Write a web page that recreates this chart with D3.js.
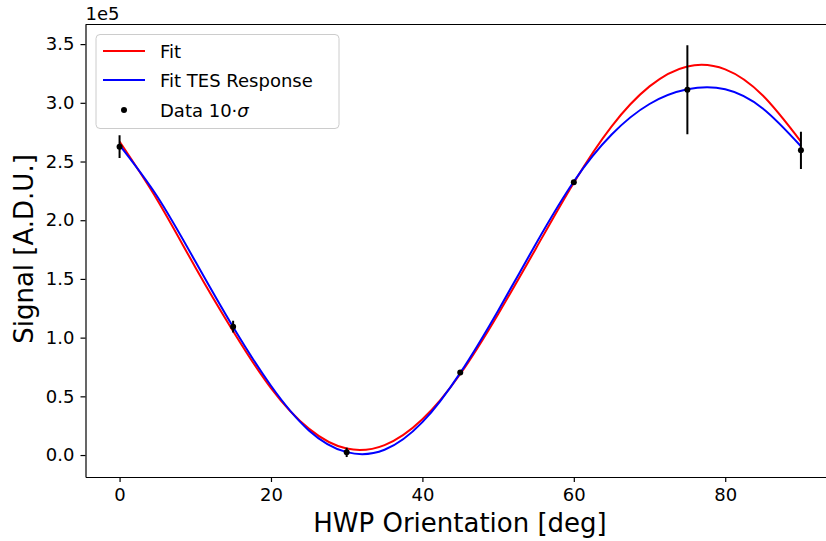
<!DOCTYPE html>
<html lang="en">
<head>
<meta charset="UTF-8">
<title>HWP Orientation Fit</title>
<script src="https://d3js.org/d3.v7.min.js"></script>
<style>
    body { margin: 0; background: #fff; }
    svg { display: block; }
    text { font-family: "DejaVu Sans", sans-serif; fill: #000; }
    .axis path, .axis line { stroke: #000; stroke-width: 1.2px; }
    .axis text { font-size: 18px; }
    .fit { fill: none; stroke-width: 2px; }
</style>
</head>
<body>
<div id="chart"></div>
<script>
    // measured points, signal in ADU
    var angles = [0, 15, 30, 45, 60, 75, 90];
    var signal = [262600, 109300, 2300, 70400, 232400, 311200, 259500];
    var sigma10 = [9700, 5000, 4000, 2000, 1500, 37900, 15800];

    // fit curves every 5 deg
    var fitAngles = [0, 5, 10, 15, 20, 25, 30, 35, 40, 45, 50, 55, 60, 65, 70, 75, 80, 85, 90];
    var fitRed = [267000, 217000, 160000, 105500, 57000, 22500, 5500, 8500, 30500, 69000,
                  120000, 176000, 232000, 280000, 314000, 331000, 328500, 306000, 267000];
    var fitBlue = [264000, 220000, 165000, 109000, 59000, 21000, 2500, 4500, 28000, 70000,
                   123000, 180000, 233000, 273000, 299000, 311500, 311500, 295000, 263000];

    var yTicks = [0, 50000, 100000, 150000, 200000, 250000, 300000, 350000];
    var xTicks = [0, 20, 40, 60, 80];

    var W = 826, H = 541;
    var plotLeft = 85.5, plotTop = 24.5, plotBottom = 477, plotRight = 835;

    var x = d3.scaleLinear().domain([-4.5, 94.5]).range([plotLeft, plotRight]);
    var y = d3.scaleLinear().domain([-18700, 366700]).range([plotBottom, plotTop]);

    var svg = d3.select("#chart").append("svg")
        .attr("width", W)
        .attr("height", H);

    svg.append("defs").append("clipPath").attr("id", "plotclip")
      .append("rect")
        .attr("x", plotLeft).attr("y", plotTop)
        .attr("width", plotRight - plotLeft).attr("height", plotBottom - plotTop);

    // axes
    svg.append("g")
        .attr("class", "axis")
        .attr("transform", "translate(0," + plotBottom + ")")
        .call(d3.axisBottom(x).tickValues(xTicks).tickSize(5).tickPadding(6)
            .tickSizeOuter(0).tickFormat(d3.format("d")));

    svg.append("g")
        .attr("class", "axis")
        .attr("transform", "translate(" + plotLeft + ",0)")
        .call(d3.axisLeft(y).tickValues(yTicks).tickSize(5).tickPadding(6)
            .tickSizeOuter(0).tickFormat(function(d) { return (d / 1e5).toFixed(1); }));

    // top spine
    svg.append("line")
        .attr("x1", plotLeft).attr("x2", W)
        .attr("y1", plotTop).attr("y2", plotTop)
        .attr("stroke", "#000").attr("stroke-width", 1.2);

    svg.append("text")
        .attr("x", plotLeft).attr("y", 20)
        .style("font-size", "18px")
        .text("1e5");

    var plot = svg.append("g").attr("clip-path", "url(#plotclip)");

    var line = function(vals) {
        return d3.line()
            .x(function(d, i) { return x(fitAngles[i]); })
            .y(function(d) { return y(d); })
            .curve(d3.curveNatural)(vals);
    };

    plot.append("path").attr("class", "fit").attr("stroke", "#ff0000").attr("d", line(fitRed));
    plot.append("path").attr("class", "fit").attr("stroke", "#0000ff").attr("d", line(fitBlue));

    // error bars and points
    var pts = angles.map(function(a, i) { return { a: a, s: signal[i], e: sigma10[i] }; });

    plot.selectAll("line.err")
        .data(pts)
      .enter().append("line")
        .attr("class", "err")
        .attr("x1", function(d) { return x(d.a); })
        .attr("x2", function(d) { return x(d.a); })
        .attr("y1", function(d) { return y(d.s - d.e); })
        .attr("y2", function(d) { return y(d.s + d.e); })
        .attr("stroke", "#000")
        .attr("stroke-width", 2);

    plot.selectAll("circle.pt")
        .data(pts)
      .enter().append("circle")
        .attr("class", "pt")
        .attr("cx", function(d) { return x(d.a); })
        .attr("cy", function(d) { return y(d.s); })
        .attr("r", 3)
        .attr("fill", "#000");

    // axis labels
    svg.append("text")
        .attr("x", 460).attr("y", 532)
        .attr("text-anchor", "middle")
        .style("font-size", "26px")
        .text("HWP Orientation [deg]");

    svg.append("text")
        .attr("transform", "translate(33,249) rotate(-90)")
        .attr("text-anchor", "middle")
        .style("font-size", "26px")
        .text("Signal [A.D.U.]");

    // legend
    var lg = svg.append("g");
    lg.append("rect")
        .attr("x", 96).attr("y", 34.5)
        .attr("width", 243).attr("height", 94)
        .attr("rx", 4)
        .attr("fill", "#fff").attr("fill-opacity", 0.8)
        .attr("stroke", "#cccccc").attr("stroke-width", 1);

    var items = [
        { label: "Fit", color: "#ff0000", kind: "line", cy: 51 },
        { label: "Fit TES Response", color: "#0000ff", kind: "line", cy: 80 },
        { label: "Data 10·", color: "#000", kind: "dot", cy: 110 }
    ];

    items.forEach(function(it) {
        if (it.kind === "line") {
            lg.append("line")
                .attr("x1", 103).attr("x2", 145)
                .attr("y1", it.cy).attr("y2", it.cy)
                .attr("stroke", it.color).attr("stroke-width", 2);
        } else {
            lg.append("circle")
                .attr("cx", 124).attr("cy", it.cy).attr("r", 3)
                .attr("fill", it.color);
        }
        var t = lg.append("text")
            .attr("x", 160).attr("y", it.cy + 6.5)
            .style("font-size", "18px")
            .text(it.label);
        if (it.kind === "dot") {
            t.append("tspan").style("font-style", "italic").text("σ");
        }
    });
</script>
</body>
</html>
